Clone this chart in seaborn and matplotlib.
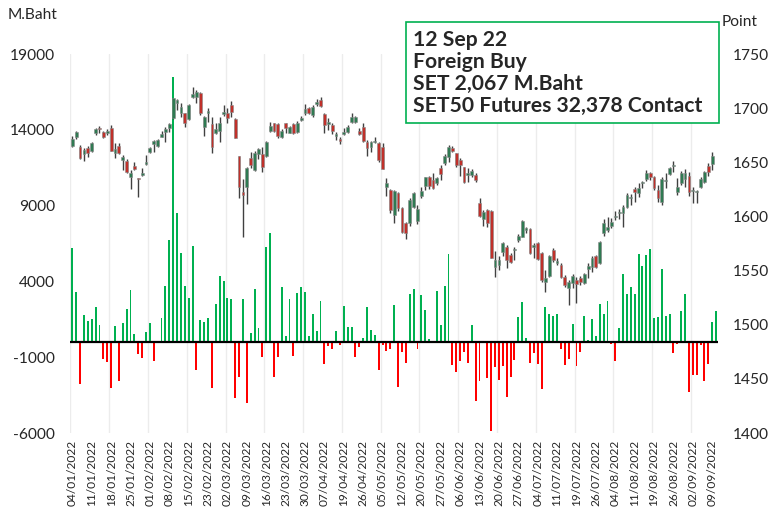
import numpy as np
import pandas as pd
import matplotlib
matplotlib.use("Agg")
import matplotlib.pyplot as plt
import seaborn as sns
from matplotlib.patches import Rectangle

# ── Data ──────────────────────────────────────
# foreign net buy/sell on SET, thousand M.Baht per trading day (04/01/2022 .. 12/09/2022)
net_flow_k = [
    6.18, 3.28, -2.75, 1.80, 1.39, 1.52, 2.29, 1.12, -1.12, -1.32,
    -3.00, 1.03, -2.60, 1.28, 2.20, 3.43, 0.50, -0.79, -1.06, 0.66,
    1.28, -1.23, 0.00, 1.56, 3.67, 6.70, 17.50, 8.49, 5.85, 3.67,
    2.90, 6.35, -1.83, 1.47, 1.34, 1.56, -3.00, 2.49, 4.33, 4.02,
    2.90, 2.84, -3.67, -2.29, 2.84, -4.00, 0.57, 3.50, 0.92, -0.97,
    6.29, 7.17, -2.29, -0.97, 3.63, 0.40, 2.84, -0.90, 3.23, 3.65,
    3.30, 0.40, 1.87, 0.73, 2.70, -1.43, -0.24, -0.44, 0.73, -0.18,
    2.37, 1.01, 1.00, -0.97, -0.31, 0.26, 2.29, 0.79, 0.46, -1.83,
    -0.18, -0.57, -0.44, 2.44, -2.95, -0.64, -1.36, 3.20, 3.47, -0.44,
    3.10, 2.09, 0.20, 0.09, 3.39, 1.12, 3.69, 5.83, -1.50, -1.96,
    -1.23, -0.64, -1.36, 1.10, -3.87, -2.60, 0.10, -2.40, -5.85, -1.63,
    -2.49, -1.56, -3.60, -2.29, -1.17, 1.67, 2.64, 0.29, -1.36, -0.75,
    -1.43, -3.08, 2.29, 1.83, 1.70, 1.85, -0.44, -1.50, -1.10, 1.21,
    -1.56, -0.64, 1.71, 0.15, 1.50, 0.40, 2.49, 1.87, 2.68, -0.10,
    -1.23, 0.90, 4.49, 3.17, 3.63, 3.15, 5.78, 5.01, 5.72, 6.15,
    1.56, 1.63, 4.79, 1.70, 1.87, -0.70, -0.10, 2.04, 3.19, -3.28,
    -2.20, -2.20, -0.22, -2.60, -1.43, 1.30, 2.07,
]

# SET index daily candles
set_open = [
    1665.1, 1673.7, 1664.4, 1657.7, 1663.5, 1660.4, 1676.8, 1681.4, 1677.7, 1676.8,
    1682.0, 1658.9, 1665.1, 1652.1, 1651.5, 1636.7, 1646.6, 1635.5, 1638.3, 1648.4,
    1659.8, 1666.6, 1665.4, 1673.7, 1677.7, 1681.4, 1690.6, 1704.5, 1695.8, 1695.2,
    1689.7, 1710.6, 1710.0, 1714.3, 1682.3, 1695.2, 1685.1, 1676.8, 1679.2, 1694.3,
    1695.8, 1702.6, 1689.7, 1655.8, 1622.9, 1627.5, 1653.7, 1642.9, 1657.7, 1657.7,
    1655.8, 1679.2, 1686.0, 1685.1, 1673.7, 1686.0, 1677.4, 1685.4, 1678.3, 1689.1,
    1695.2, 1699.8, 1693.7, 1703.8, 1707.5, 1694.6, 1685.4, 1684.4, 1674.3, 1671.2,
    1676.1, 1678.3, 1687.5, 1687.5, 1679.2, 1682.9, 1669.1, 1664.4, 1668.7, 1668.1,
    1664.4, 1626.9, 1624.4, 1601.3, 1622.0, 1607.5, 1593.6, 1594.0, 1608.4, 1596.1,
    1619.2, 1628.1, 1636.7, 1633.6, 1630.6, 1644.4, 1649.0, 1655.2, 1662.9, 1658.3,
    1652.1, 1645.3, 1638.2, 1638.2, 1638.2, 1612.7, 1597.3, 1605.9, 1605.3, 1553.6,
    1555.1, 1567.5, 1572.1, 1564.4, 1569.0, 1578.2, 1581.3, 1587.4, 1588.4, 1571.5,
    1575.8, 1566.5, 1539.7, 1545.0, 1569.0, 1556.7, 1555.1, 1544.4, 1533.6, 1538.8,
    1541.3, 1542.8, 1538.8, 1551.1, 1553.6, 1563.5, 1556.7, 1585.0, 1587.4, 1591.2,
    1599.2, 1602.9, 1603.5, 1609.0, 1616.7, 1625.6, 1621.9, 1630.6, 1634.2, 1639.8,
    1636.1, 1624.4, 1613.6, 1632.7, 1639.2, 1646.6, 1622.9, 1630.6, 1634.2, 1637.3,
    1623.5, 1622.9, 1627.5, 1632.1, 1646.6, 1648.4, np.nan,
]
set_high = [
    1674.3, 1679.2, 1666.0, 1662.9, 1665.1, 1668.7, 1682.0, 1683.5, 1678.9, 1680.8,
    1684.1, 1668.1, 1667.5, 1656.7, 1653.1, 1642.9, 1650.6, 1635.8, 1644.4, 1656.4,
    1664.4, 1670.6, 1671.2, 1679.2, 1682.9, 1686.6, 1709.1, 1708.5, 1704.5, 1695.8,
    1703.5, 1719.8, 1716.8, 1715.2, 1692.8, 1699.8, 1691.5, 1686.0, 1691.5, 1702.9,
    1699.8, 1706.3, 1690.6, 1655.8, 1634.3, 1645.4, 1659.8, 1660.7, 1663.5, 1664.4,
    1670.0, 1686.9, 1686.6, 1686.6, 1680.4, 1686.6, 1683.5, 1686.0, 1688.4, 1693.1,
    1703.5, 1701.4, 1702.9, 1708.1, 1710.0, 1695.8, 1690.6, 1686.0, 1678.3, 1673.7,
    1681.4, 1684.4, 1695.2, 1692.8, 1681.4, 1686.6, 1670.6, 1670.0, 1673.7, 1669.1,
    1668.1, 1635.2, 1625.0, 1624.4, 1622.9, 1609.0, 1595.2, 1616.7, 1622.9, 1610.5,
    1627.5, 1636.7, 1637.3, 1640.4, 1636.7, 1647.5, 1657.3, 1666.0, 1665.0, 1658.9,
    1653.6, 1645.9, 1644.4, 1643.5, 1639.8, 1616.7, 1605.9, 1606.5, 1605.9, 1568.4,
    1563.5, 1576.7, 1573.6, 1565.9, 1571.5, 1583.8, 1596.7, 1590.5, 1589.0, 1575.8,
    1576.7, 1567.5, 1550.5, 1564.4, 1570.5, 1561.3, 1556.7, 1545.9, 1541.3, 1546.8,
    1544.4, 1545.0, 1548.1, 1556.7, 1563.5, 1564.4, 1577.3, 1597.3, 1599.2, 1598.2,
    1605.0, 1606.5, 1610.5, 1621.3, 1620.4, 1626.9, 1630.6, 1633.0, 1642.9, 1641.3,
    1637.3, 1629.0, 1636.1, 1639.8, 1645.9, 1651.5, 1635.2, 1642.2, 1643.5, 1641.3,
    1626.9, 1624.4, 1636.7, 1642.2, 1649.6, 1659.8, np.nan,
]
set_low = [
    1664.4, 1671.8, 1652.7, 1651.2, 1655.2, 1659.8, 1675.2, 1676.8, 1672.1, 1675.2,
    1660.7, 1654.3, 1657.7, 1642.9, 1639.8, 1625.0, 1642.9, 1618.3, 1637.4, 1647.8,
    1658.9, 1659.8, 1664.4, 1673.1, 1668.4, 1678.3, 1690.0, 1698.3, 1692.1, 1682.3,
    1689.1, 1709.1, 1705.1, 1693.7, 1674.3, 1687.5, 1658.3, 1675.8, 1669.1, 1692.8,
    1686.6, 1692.1, 1672.1, 1616.7, 1581.3, 1611.5, 1644.4, 1642.3, 1653.1, 1640.7,
    1655.2, 1678.3, 1678.3, 1672.1, 1672.1, 1676.8, 1676.8, 1676.1, 1677.4, 1688.4,
    1693.7, 1694.6, 1691.5, 1702.0, 1701.4, 1676.8, 1679.8, 1676.1, 1670.6, 1666.9,
    1675.2, 1676.8, 1686.0, 1686.0, 1675.2, 1669.1, 1655.8, 1659.8, 1667.5, 1650.6,
    1643.5, 1618.9, 1602.9, 1593.6, 1605.0, 1585.0, 1578.9, 1591.0, 1607.5, 1592.7,
    1617.3, 1624.4, 1625.0, 1625.0, 1629.0, 1633.6, 1647.5, 1650.6, 1659.8, 1645.9,
    1637.3, 1631.2, 1632.1, 1636.7, 1632.1, 1599.2, 1591.2, 1589.9, 1561.3, 1544.4,
    1550.5, 1563.5, 1552.1, 1556.7, 1559.8, 1576.7, 1580.7, 1584.3, 1565.3, 1561.3,
    1559.8, 1539.7, 1530.5, 1544.4, 1558.2, 1555.1, 1542.8, 1535.1, 1518.2, 1533.6,
    1520.4, 1536.7, 1537.6, 1542.8, 1549.0, 1552.1, 1556.1, 1581.9, 1585.9, 1589.0,
    1596.7, 1597.3, 1590.5, 1607.5, 1610.5, 1613.6, 1618.2, 1626.0, 1633.0, 1633.6,
    1624.4, 1613.6, 1610.5, 1626.0, 1638.2, 1641.3, 1619.8, 1629.0, 1626.9, 1618.9,
    1612.1, 1612.7, 1626.0, 1630.6, 1637.3, 1642.9, np.nan,
]
set_close = [
    1671.2, 1678.0, 1653.7, 1661.4, 1658.9, 1668.1, 1680.4, 1680.4, 1673.7, 1678.9,
    1660.7, 1662.6, 1658.3, 1655.2, 1641.4, 1639.8, 1643.5, 1634.9, 1640.4, 1650.6,
    1663.5, 1669.7, 1670.6, 1676.1, 1680.4, 1685.1, 1709.1, 1707.5, 1700.8, 1686.0,
    1702.9, 1713.1, 1714.6, 1695.2, 1692.1, 1697.7, 1664.4, 1681.1, 1686.6, 1696.8,
    1690.6, 1696.8, 1672.1, 1627.5, 1619.8, 1644.4, 1647.5, 1658.9, 1662.0, 1645.4,
    1669.1, 1683.5, 1678.9, 1674.3, 1679.2, 1681.4, 1682.3, 1676.8, 1686.0, 1690.6,
    1699.5, 1695.8, 1701.4, 1706.0, 1702.0, 1684.4, 1687.5, 1679.2, 1676.1, 1670.0,
    1678.3, 1682.3, 1692.1, 1691.5, 1676.1, 1670.0, 1662.9, 1669.1, 1669.7, 1652.1,
    1643.5, 1630.6, 1606.0, 1623.5, 1607.5, 1586.0, 1585.0, 1615.5, 1621.9, 1606.9,
    1623.8, 1636.1, 1628.1, 1626.0, 1635.2, 1639.2, 1655.8, 1664.4, 1660.7, 1647.5,
    1647.5, 1632.1, 1640.4, 1642.2, 1633.6, 1600.4, 1604.4, 1593.6, 1561.3, 1559.8,
    1559.8, 1575.1, 1559.8, 1558.2, 1569.6, 1581.9, 1596.1, 1589.0, 1565.9, 1573.6,
    1560.4, 1541.3, 1542.8, 1563.5, 1559.8, 1559.2, 1544.4, 1536.7, 1539.7, 1545.0,
    1537.6, 1539.7, 1546.8, 1554.2, 1561.3, 1553.6, 1576.7, 1593.6, 1590.5, 1595.2,
    1600.4, 1604.1, 1609.0, 1619.8, 1618.2, 1622.6, 1625.9, 1631.2, 1640.4, 1636.7,
    1626.0, 1616.7, 1634.2, 1633.6, 1644.4, 1647.5, 1627.5, 1640.4, 1640.4, 1622.9,
    1624.4, 1623.5, 1634.2, 1641.3, 1641.3, 1655.8, np.nan,
]

# one label every fifth trading day
date_labels = [
    "04/01/2022", "11/01/2022", "18/01/2022", "25/01/2022", "01/02/2022", "08/02/2022",
    "15/02/2022", "23/02/2022", "02/03/2022", "09/03/2022", "16/03/2022", "23/03/2022",
    "30/03/2022", "07/04/2022", "19/04/2022", "26/04/2022", "05/05/2022", "12/05/2022",
    "20/05/2022", "27/05/2022", "06/06/2022", "13/06/2022", "20/06/2022", "27/06/2022",
    "04/07/2022", "11/07/2022", "19/07/2022", "26/07/2022", "04/08/2022", "11/08/2022",
    "19/08/2022", "26/08/2022", "02/09/2022", "09/09/2022",
]

info_lines = ["12 Sep 22", "Foreign Buy", "SET 2,067 M.Baht", "SET50 Futures 32,378 Contact"]

# ── Style ─────────────────────────────────────
sns.set_style("white")
plt.rcParams["font.family"] = ["Lato", "DejaVu Sans"]
plt.rcParams["axes.unicode_minus"] = False

GREEN_BAR = "#00B050"
RED_BAR = "#FF0000"
UP_BODY = "#2F7A52"
DOWN_BODY = "#C0302A"
WICK = "#404040"

df = pd.DataFrame({"day": np.arange(len(net_flow_k)),
                   "flow": np.array(net_flow_k) * 1000})
df["side"] = np.where(df["flow"] >= 0, "buy", "sell")

fig = plt.figure(figsize=(7.71, 5.11), dpi=100)
ax = fig.add_axes([0.0913, 0.1526, 0.84, 0.7417])

# vertical gridlines every 10 days
for g in np.arange(-0.5, len(df), 10):
    ax.axvline(g, color="#ECECEC", lw=1, zorder=0)

sns.barplot(data=df, x="day", y="flow", hue="side", native_scale=True,
            dodge=False, palette={"buy": GREEN_BAR, "sell": RED_BAR},
            saturation=1, width=0.5, linewidth=0, legend=False, ax=ax, zorder=2)
ax.axhline(0, color="black", lw=1.6, zorder=3)

ax.set_xlim(-0.5, len(df) - 0.5)
ax.set_ylim(-6000, 19000)
ax.set_yticks(np.arange(-6000, 19001, 5000))
ax.set_xticks(np.arange(0, len(df), 5)[:len(date_labels)])
ax.set_xticklabels(date_labels, rotation=90, fontsize=8.6)
ax.tick_params(axis="y", labelsize=11.2, length=0, pad=11)
ax.tick_params(axis="x", length=0, pad=5)
ax.set_xlabel("")
ax.set_ylabel("")
for s in ax.spines.values():
    s.set_visible(False)

# ── Candles on right axis ─────────────────────
ax2 = ax.twinx()
o = np.array(set_open); h = np.array(set_high)
l = np.array(set_low); c = np.array(set_close)
days = df["day"].values
up = c >= o
body_lo = np.minimum(o, c)
body_h = np.maximum(np.abs(c - o), 0.8)
ax2.vlines(days, l, h, color=WICK, lw=1.0, zorder=2)
ax2.bar(days, body_h, bottom=body_lo, width=0.72,
        color=np.where(up, UP_BODY, DOWN_BODY), edgecolor="#8A8A8A",
        linewidth=0.4, zorder=3)
ax2.set_ylim(1400, 1750)
ax2.set_yticks(np.arange(1400, 1751, 50))
ax2.tick_params(axis="y", labelsize=11.2, length=0, pad=10.5)
for s in ax2.spines.values():
    s.set_visible(False)

# ── Texts ─────────────────────────────────────
fig.text(8 / 771, 1 - 15 / 511, "M.Baht", fontsize=11.2, va="center", ha="left")
fig.text(722 / 771, 1 - 22 / 511, "Point", fontsize=11.2, va="center", ha="left")

box = Rectangle((406 / 771, 1 - 123 / 511), 313 / 771, 101 / 511,
                transform=fig.transFigure, facecolor="white",
                edgecolor=GREEN_BAR, lw=1.2, zorder=10)
fig.add_artist(box)
for k, line in enumerate(info_lines):
    fig.text(413 / 771, 1 - (40 + 22 * k) / 511, line, fontsize=15.2,
             fontweight="bold", va="center", ha="left", zorder=11)

fig.savefig("out.png", dpi=100)
